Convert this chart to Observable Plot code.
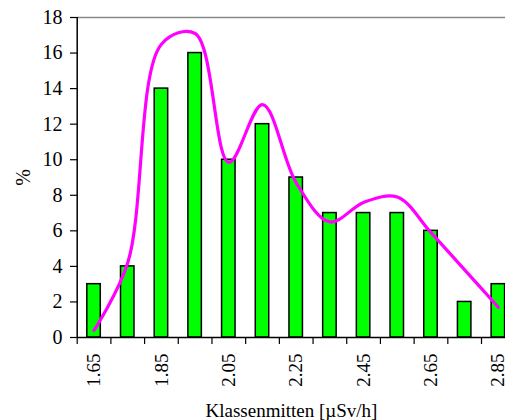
<!DOCTYPE html>
<html><head><meta charset="utf-8">
<script src="https://cdn.jsdelivr.net/npm/d3@7"></script>
<script src="https://cdn.jsdelivr.net/npm/@observablehq/plot@0.6"></script>
<style>
html,body{margin:0;padding:0;background:#fff;overflow:hidden}
svg, svg text{font-family:"Liberation Serif","Times New Roman",serif !important;}
</style>
</head><body><div id="chart"></div>
<script>
const classes = [1.65, 1.75, 1.85, 1.95, 2.05, 2.15, 2.25, 2.35, 2.45, 2.55, 2.65, 2.75, 2.85];
const percent = [3, 4, 14, 16, 10, 12, 9, 7, 7, 7, 6, 2, 3];
const curveValues = [0.4, 4.2, 16.5, 17.1, 9.85, 13.1, 8.7, 6.5, 7.6, 7.9, 5.9, 3.8, 1.7];
const tickLabels = [1.65, 1.85, 2.05, 2.25, 2.45, 2.65, 2.85];
const classEdges = [1.6, 1.7, 1.8, 1.9, 2.0, 2.1, 2.2, 2.3, 2.4, 2.5, 2.6, 2.7, 2.8, 2.9];
const yTicks = [0, 2, 4, 6, 8, 10, 12, 14, 16, 18];

const bars = classes.map((c, i) => ({c, v: percent[i]}));
const curve = classes.map((c, i) => ({c, v: curveValues[i]}));
const half = 0.02;

const plot = Plot.plot({
  width: 505,
  height: 420,
  marginLeft: 77,
  marginTop: 17,
  marginBottom: 83,
  marginRight: 0,
  style: {fontFamily: "Liberation Serif, serif", fontSize: "20px", color: "#000", background: "#fff"},
  x: {type: "linear", domain: [1.6, 2.9], range: [76.7, 514.7]},
  y: {domain: [0, 18]},
  marks: [
    Plot.ruleY([18], {stroke: "#888", strokeWidth: 1.5}),
    Plot.rectY(bars, {x1: d => d.c - half, x2: d => d.c + half, y: "v", fill: "#00ff00", stroke: "#000", strokeWidth: 1.5}),
    Plot.line(curve, {x: "c", y: "v", curve: "catmull-rom", stroke: "#ff00ff", strokeWidth: 3.2}),
    Plot.ruleY([0], {stroke: "#000", strokeWidth: 1.5}),
    Plot.ruleX([1.6], {stroke: "#000", strokeWidth: 1.5}),
    Plot.axisY({ticks: yTicks, tickSize: 7, tickPadding: 8, fontSize: 20, label: "%", labelAnchor: "center", labelOffset: 62, labelArrow: "none", stroke: "#000", strokeWidth: 1.2}),
    Plot.axisX({ticks: classEdges, tickSize: 7, tickFormat: () => "", label: null, stroke: "#000", strokeWidth: 1.2}),
    Plot.axisX({ticks: tickLabels, tickSize: 0, tickPadding: 16, tickRotate: -90, tickFormat: d => d.toFixed(2), fontSize: 19, label: "Klassenmitten [µSv/h]", labelAnchor: "center", labelOffset: 79, labelArrow: "none"})
  ]
});
document.getElementById("chart").appendChild(plot);
</script>
</body></html>
